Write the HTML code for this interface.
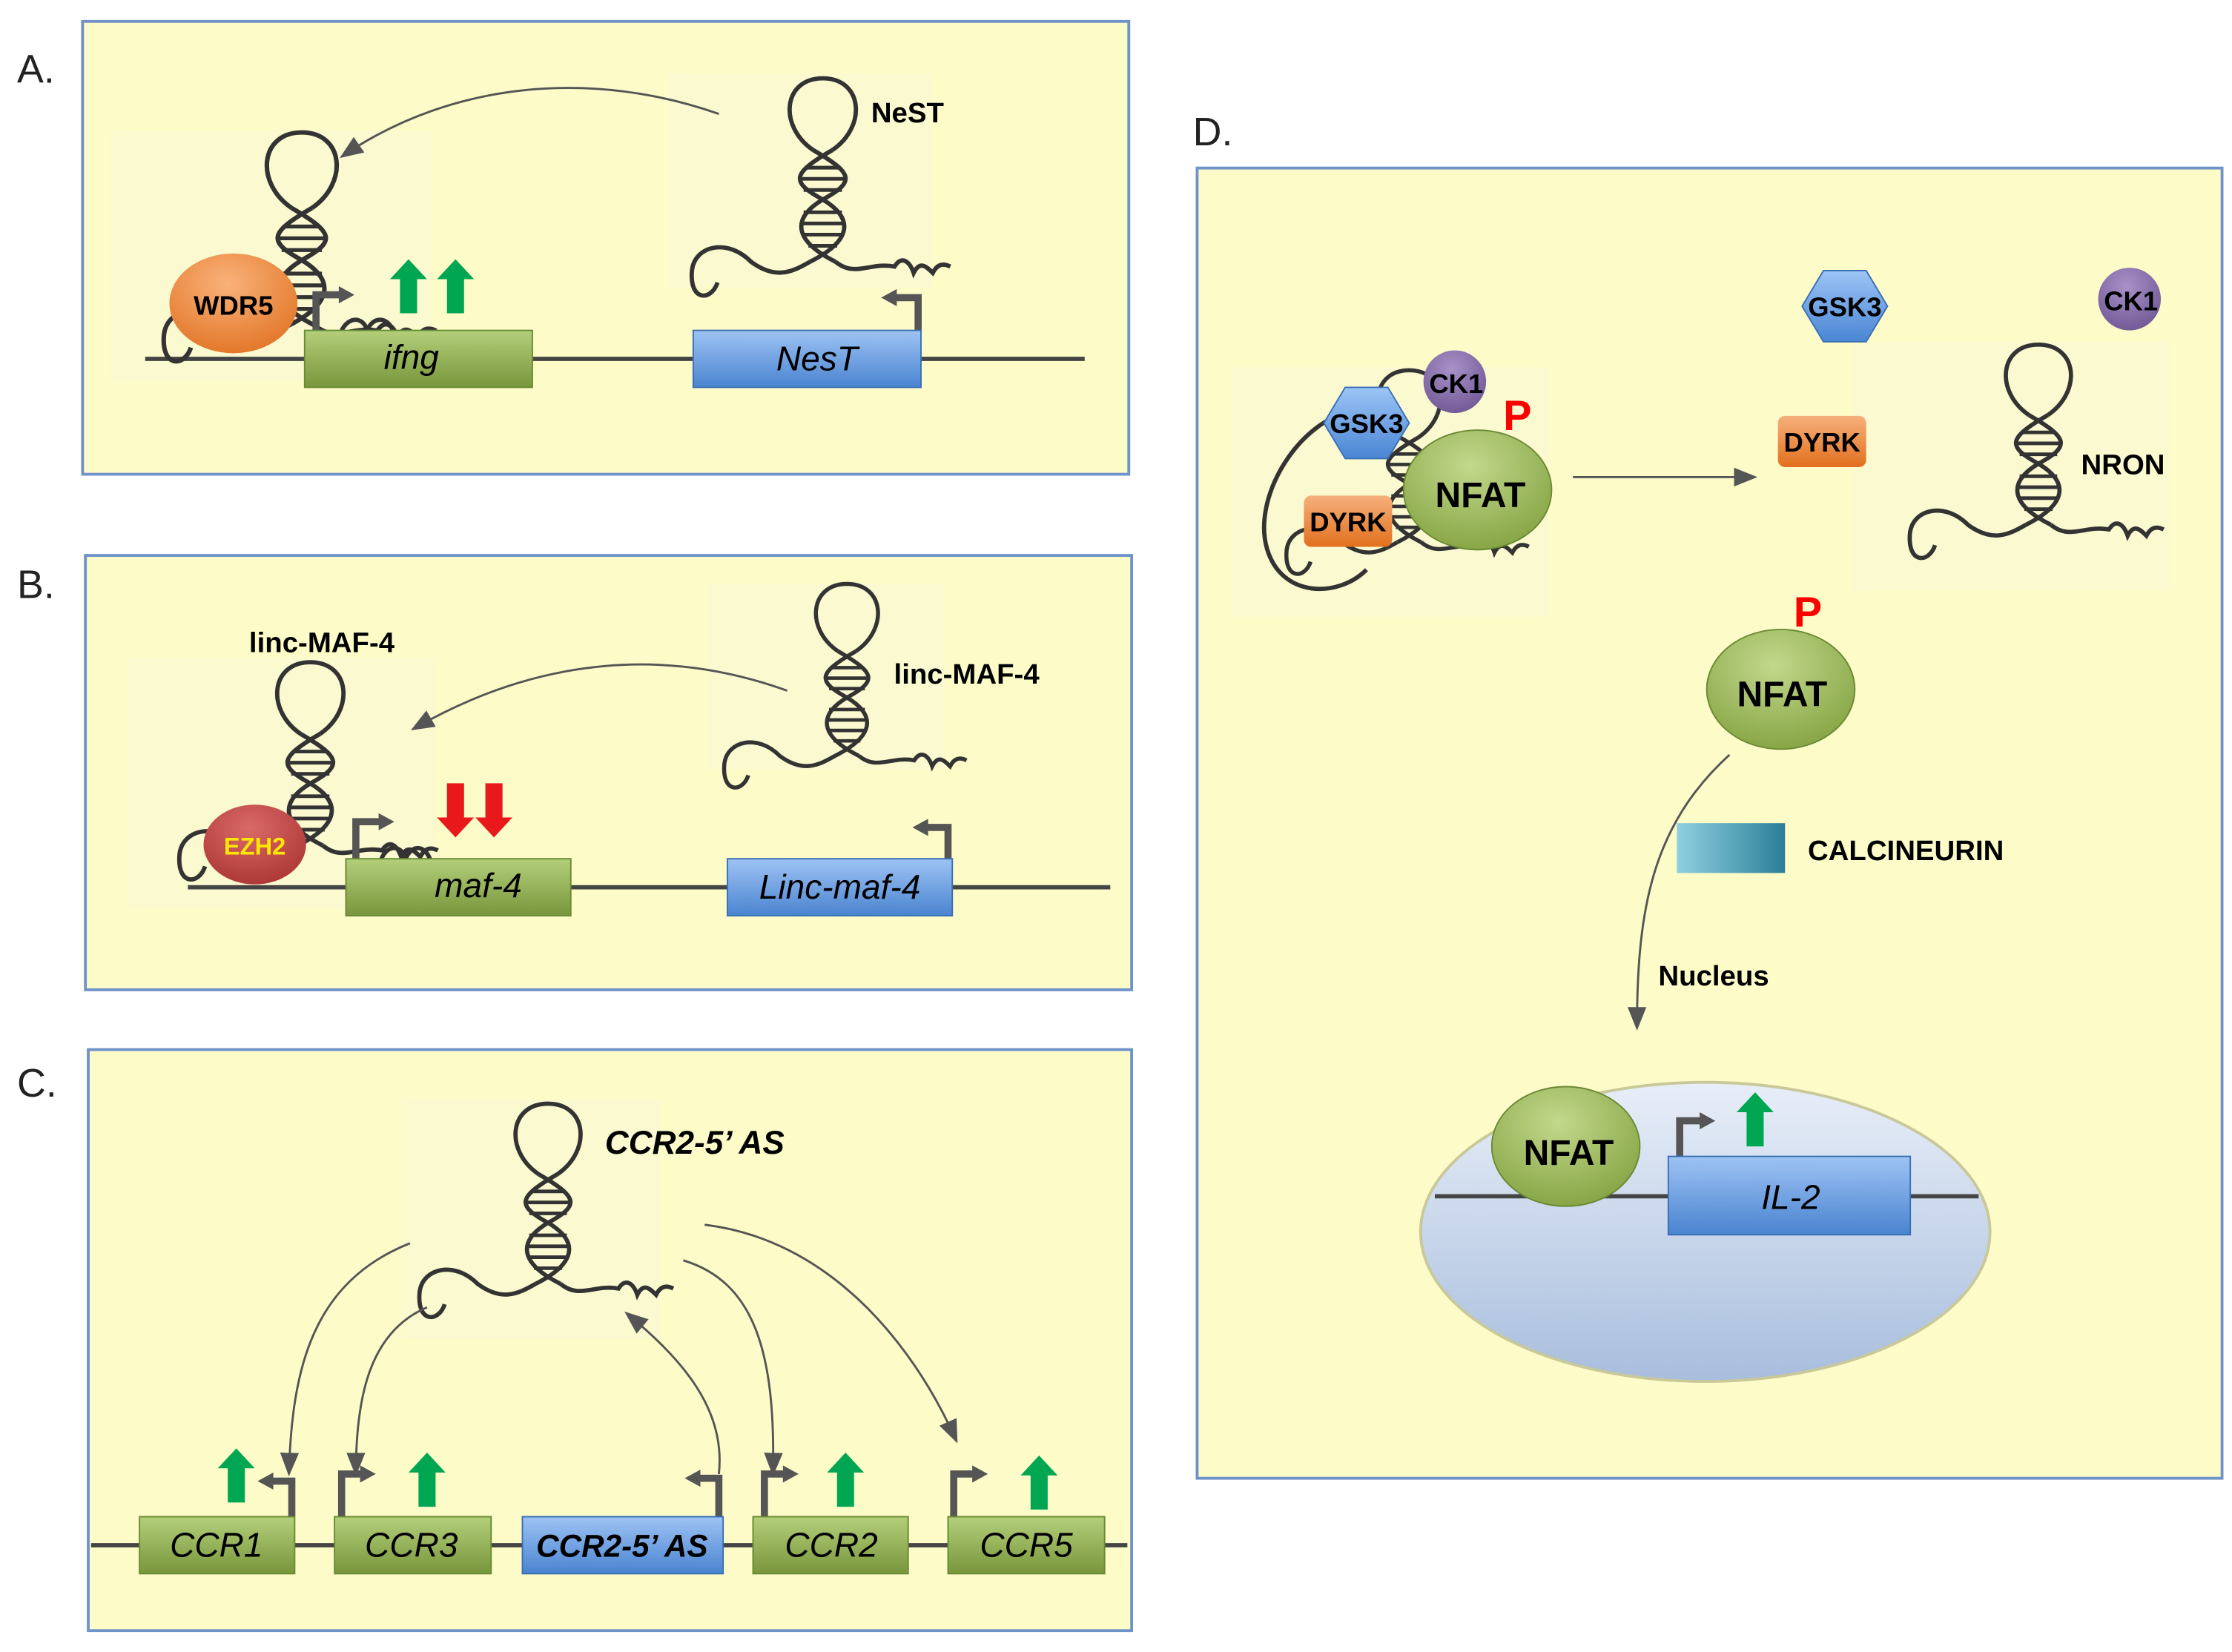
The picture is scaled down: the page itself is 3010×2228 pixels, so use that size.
<!DOCTYPE html>
<html><head><meta charset="utf-8"><style>
html,body{margin:0;padding:0;background:#fff;width:3010px;height:2228px;overflow:hidden}
svg{display:block}
text{font-family:"Liberation Sans",sans-serif}
</style></head><body>
<svg width="3010" height="2228" viewBox="0 0 1568 1160" preserveAspectRatio="none" xmlns="http://www.w3.org/2000/svg">
<defs>
<linearGradient id="gg" x1="0" y1="0" x2="0" y2="1"><stop offset="0" stop-color="#b4cf7a"/><stop offset="1" stop-color="#78963c"/></linearGradient>
<linearGradient id="bg" x1="0" y1="0" x2="0" y2="1"><stop offset="0" stop-color="#9ec3f4"/><stop offset="1" stop-color="#4a84d0"/></linearGradient>
<radialGradient id="og" cx="0.45" cy="0.3" r="0.8"><stop offset="0" stop-color="#f9b27a"/><stop offset="1" stop-color="#e0701f"/></radialGradient>
<radialGradient id="rg" cx="0.45" cy="0.3" r="0.8"><stop offset="0" stop-color="#d96a68"/><stop offset="1" stop-color="#a8322f"/></radialGradient>
<radialGradient id="ngr" cx="0.45" cy="0.3" r="0.8"><stop offset="0" stop-color="#c2d88c"/><stop offset="1" stop-color="#809f3c"/></radialGradient>
<radialGradient id="pg" cx="0.45" cy="0.3" r="0.8"><stop offset="0" stop-color="#a892c8"/><stop offset="1" stop-color="#6b5390"/></radialGradient>
<linearGradient id="hx" x1="0" y1="0" x2="0" y2="1"><stop offset="0" stop-color="#9cc4f5"/><stop offset="1" stop-color="#4a86d4"/></linearGradient>
<linearGradient id="dy" x1="0" y1="0" x2="0" y2="1"><stop offset="0" stop-color="#f6b07c"/><stop offset="1" stop-color="#e2701e"/></linearGradient>
<linearGradient id="nuc" x1="0" y1="0" x2="0" y2="1"><stop offset="0" stop-color="#e8eef8"/><stop offset="1" stop-color="#a8bedd"/></linearGradient>
<linearGradient id="cal" x1="0" y1="0" x2="1" y2="0"><stop offset="0" stop-color="#8fd0e0"/><stop offset="1" stop-color="#2a7f98"/></linearGradient>
<g id="rna" fill="none" stroke="#333" stroke-width="2.7">
<path d="M-6,45 C-28,30 -25,0 0,0 C25,0 28,30 6,45"/>
<path d="M-6,45 C20,60 20,65 0,76 C-20,88 -18,102 8,115"/>
<path d="M6,45 C-20,60 -20,65 0,76 C20,88 18,102 -8,115"/>
<path d="M-10,56H10M-13,63H13M-12,70H12M-12,84H12M-13,91H13M-12,98H12M-9,105H9" stroke-width="2.3"/>
<path d="M8,115 C20,125 30,115 45,118 C50,110 55,116 57,122 C61,114 65,118 69,122 C72,116 76,116 80,118"/>
<path d="M-8,115 C-20,122 -30,126 -45,115 C-60,100 -80,105 -82,120 C-84,140 -70,140 -66,128"/>
</g>
<polygon id="gu" points="0,0 13,14 6,14 6,38 -6,38 -6,14 -13,14" fill="#00a651"/>
<polygon id="rd" points="0,38 13,24 6,24 6,0 -6,0 -6,24 -13,24" fill="#e8181b"/>
<marker id="ahb" viewBox="0 0 10 10" refX="9" refY="5" markerWidth="11" markerHeight="11" orient="auto"><path d="M0,1L10,5L0,9z" fill="#555"/></marker>
</defs>

<g font-size="28" fill="#222"><text x="12" y="58">A.</text><text x="12" y="420">B.</text><text x="12" y="770">C.</text><text x="838" y="102">D.</text></g>

<!-- Panel A -->
<rect x="58" y="15" width="735" height="318" fill="#fdfbc8" stroke="#6f92c8" stroke-width="2"/>
<rect x="78" y="92" width="225" height="175" fill="#fbf9d0"/>
<rect x="470" y="52" width="185" height="150" fill="#fbf9d0"/>
<line x1="102" y1="252" x2="762" y2="252" stroke="#444" stroke-width="3"/>
<path d="M505,80 C420,50 320,55 240,110" fill="none" stroke="#555" stroke-width="1.5" marker-end="url(#ahb)"/>
<use href="#rna" transform="translate(212,93) scale(1.18)"/>
<use href="#rna" transform="translate(578,55) scale(1.12)"/>
<text x="612" y="86" font-size="20" font-weight="bold">NeST</text>
<path d="M240,232 C245,222 255,222 258,232 C262,222 272,222 276,232" fill="none" stroke="#333" stroke-width="3"/>
<ellipse cx="164" cy="213" rx="45" ry="35" fill="url(#og)"/>
<text x="164" y="221" font-size="19" font-weight="bold" text-anchor="middle">WDR5</text>
<path d="M222,232V207H240" fill="none" stroke="#555" stroke-width="5"/><polygon points="238,201 249,207 238,213" fill="#555"/>
<rect x="214" y="232" width="160" height="40" fill="url(#gg)" stroke="#6a8a35"/>
<text x="289" y="259" font-size="24" font-style="italic" text-anchor="middle">ifng</text>
<use href="#gu" transform="translate(287,182)"/><use href="#gu" transform="translate(320,182)"/>
<path d="M645,232V209H628" fill="none" stroke="#555" stroke-width="5"/><polygon points="630,203 619,209 630,215" fill="#555"/>
<rect x="487" y="232" width="160" height="40" fill="url(#bg)" stroke="#3a6fb5"/>
<text x="574" y="260" font-size="24" font-style="italic" text-anchor="middle">NesT</text>

<!-- Panel B -->
<rect x="60" y="390" width="735" height="305" fill="#fdfbc8" stroke="#6f92c8" stroke-width="2"/>
<rect x="90" y="462" width="215" height="175" fill="#fbf9d0"/>
<rect x="498" y="410" width="165" height="130" fill="#fbf9d0"/>
<line x1="132" y1="623" x2="780" y2="623" stroke="#444" stroke-width="3"/>
<path d="M553,485 C470,455 380,460 290,512" fill="none" stroke="#555" stroke-width="1.5" marker-end="url(#ahb)"/>
<use href="#rna" transform="translate(218,465) scale(1.12)"/>
<use href="#rna" transform="translate(595,410) scale(1.05)"/>
<text x="175" y="458" font-size="20" font-weight="bold">linc-MAF-4</text>
<text x="628" y="480" font-size="20" font-weight="bold">linc-MAF-4</text>
<path d="M268,603 C272,593 282,593 285,603 C289,593 298,593 302,603" fill="none" stroke="#333" stroke-width="3"/>
<ellipse cx="179" cy="593" rx="36" ry="28" fill="url(#rg)"/>
<text x="179" y="600" font-size="17" font-weight="bold" fill="#ffe800" text-anchor="middle">EZH2</text>
<path d="M250,603V577H268" fill="none" stroke="#555" stroke-width="5"/><polygon points="266,571 277,577 266,583" fill="#555"/>
<rect x="243" y="603" width="158" height="40" fill="url(#gg)" stroke="#6a8a35"/>
<text x="336" y="630" font-size="24" font-style="italic" text-anchor="middle">maf-4</text>
<use href="#rd" transform="translate(320,550)"/><use href="#rd" transform="translate(347,550)"/>
<path d="M666,603V581H650" fill="none" stroke="#555" stroke-width="5"/><polygon points="652,575 641,581 652,587" fill="#555"/>
<rect x="511" y="603" width="158" height="40" fill="url(#bg)" stroke="#3a6fb5"/>
<text x="590" y="631" font-size="24" font-style="italic" text-anchor="middle">Linc-maf-4</text>

<!-- Panel C -->
<rect x="62" y="737" width="733" height="408" fill="#fdfbc8" stroke="#6f92c8" stroke-width="2"/>
<rect x="282" y="772" width="182" height="168" fill="#fbf9d0"/>
<line x1="64" y1="1085" x2="792" y2="1085" stroke="#444" stroke-width="3"/>
<use href="#rna" transform="translate(385,775) scale(1.1)"/>
<text x="425" y="810" font-size="23" font-weight="bold" font-style="italic">CCR2-5’ AS</text>
<g fill="none" stroke="#555" stroke-width="1.5" marker-end="url(#ahb)">
<path d="M288,873 C220,900 205,960 203,1035"/>
<path d="M300,918 C260,935 250,980 250,1035"/>
<path d="M505,1035 C510,990 480,955 440,922"/>
<path d="M480,885 C530,900 545,950 543,1035"/>
<path d="M495,860 C580,870 640,940 672,1012"/>
</g>
<g fill="none" stroke="#555" stroke-width="5">
<path d="M205,1065V1040H190"/><path d="M240,1065V1035H255"/><path d="M505,1065V1038H490"/><path d="M537,1065V1035H552"/><path d="M670,1065V1035H685"/>
</g>
<g fill="#555">
<polygon points="192,1034 181,1040 192,1046"/><polygon points="253,1029 264,1035 253,1041"/><polygon points="492,1032 481,1038 492,1044"/><polygon points="550,1029 561,1035 550,1041"/><polygon points="683,1029 694,1035 683,1041"/>
</g>
<use href="#gu" transform="translate(166,1017)"/><use href="#gu" transform="translate(300,1020)"/><use href="#gu" transform="translate(594,1020)"/><use href="#gu" transform="translate(730,1022)"/>
<g font-size="24" font-style="italic" text-anchor="middle">
<rect x="98" y="1065" width="109" height="40" fill="url(#gg)" stroke="#6a8a35"/><text x="152" y="1093">CCR1</text>
<rect x="235" y="1065" width="110" height="40" fill="url(#gg)" stroke="#6a8a35"/><text x="289" y="1093">CCR3</text>
<rect x="367" y="1065" width="141" height="40" fill="url(#bg)" stroke="#3a6fb5"/><text x="437" y="1093" font-weight="bold" font-size="22">CCR2-5’ AS</text>
<rect x="529" y="1065" width="109" height="40" fill="url(#gg)" stroke="#6a8a35"/><text x="584" y="1093">CCR2</text>
<rect x="666" y="1065" width="110" height="40" fill="url(#gg)" stroke="#6a8a35"/><text x="721" y="1093">CCR5</text>
</g>

<!-- Panel D -->
<rect x="841" y="118" width="720" height="920" fill="#fdfbc8" stroke="#6f92c8" stroke-width="2"/>
<rect x="865" y="258" width="222" height="175" fill="#fbf9d0"/>
<rect x="1302" y="240" width="222" height="175" fill="#fbf9d0"/>
<use href="#rna" transform="translate(990,260) scale(1.05)"/>
<use href="#rna" transform="translate(1432,242) scale(1.1)"/>
<path d="M945,290 C910,300 880,350 890,385 C900,420 940,420 960,400" fill="none" stroke="#333" stroke-width="3"/>
<polygon points="945,272 975,272 990,297 975,322 945,322 930,297" fill="url(#hx)" stroke="#3a6fb5"/>
<text x="960" y="304" font-size="19" font-weight="bold" text-anchor="middle">GSK3</text>
<circle cx="1022" cy="268" r="22" fill="url(#pg)"/>
<text x="1023" y="276" font-size="19" font-weight="bold" text-anchor="middle">CK1</text>
<rect x="916" y="348" width="62" height="36" rx="5" fill="url(#dy)"/>
<text x="947" y="373" font-size="19" font-weight="bold" text-anchor="middle">DYRK</text>
<ellipse cx="1038" cy="344" rx="52" ry="42" fill="url(#ngr)" stroke="#6a8a35"/>
<text x="1040" y="356" font-size="25" font-weight="bold" text-anchor="middle">NFAT</text>
<text x="1056" y="302" font-size="30" font-weight="bold" fill="#ff0000">P</text>
<line x1="1105" y1="335" x2="1233" y2="335" stroke="#555" stroke-width="1.5" marker-end="url(#ahb)"/>
<polygon points="1281,190 1311,190 1326,215 1311,240 1281,240 1266,215" fill="url(#hx)" stroke="#3a6fb5"/>
<text x="1296" y="222" font-size="19" font-weight="bold" text-anchor="middle">GSK3</text>
<circle cx="1496" cy="210" r="22" fill="url(#pg)"/>
<text x="1497" y="218" font-size="19" font-weight="bold" text-anchor="middle">CK1</text>
<rect x="1249" y="292" width="62" height="36" rx="5" fill="url(#dy)"/>
<text x="1280" y="317" font-size="19" font-weight="bold" text-anchor="middle">DYRK</text>
<text x="1462" y="333" font-size="20" font-weight="bold">NRON</text>
<text x="1260" y="440" font-size="30" font-weight="bold" fill="#ff0000">P</text>
<ellipse cx="1251" cy="484" rx="52" ry="42" fill="url(#ngr)" stroke="#6a8a35"/>
<text x="1252" y="496" font-size="25" font-weight="bold" text-anchor="middle">NFAT</text>
<rect x="1178" y="578" width="76" height="35" fill="url(#cal)"/>
<text x="1270" y="604" font-size="20" font-weight="bold">CALCINEURIN</text>
<ellipse cx="1198" cy="865" rx="200" ry="105" fill="url(#nuc)" stroke="#c8c89a" stroke-width="2"/>
<path d="M1215,530 C1160,580 1150,640 1150,722" fill="none" stroke="#555" stroke-width="1.5" marker-end="url(#ahb)"/>
<text x="1165" y="692" font-size="20" font-weight="bold">Nucleus</text>
<line x1="1008" y1="840" x2="1390" y2="840" stroke="#444" stroke-width="3"/>
<ellipse cx="1100" cy="805" rx="52" ry="42" fill="url(#ngr)" stroke="#6a8a35"/>
<text x="1102" y="818" font-size="25" font-weight="bold" text-anchor="middle">NFAT</text>
<path d="M1180,812V787H1196" fill="none" stroke="#555" stroke-width="5"/><polygon points="1194,781 1205,787 1194,793" fill="#555"/>
<use href="#gu" transform="translate(1233,767)"/>
<rect x="1172" y="812" width="170" height="55" fill="url(#bg)" stroke="#3a6fb5"/>
<text x="1258" y="849" font-size="24" font-style="italic" text-anchor="middle">IL-2</text>
</svg>
</body></html>
